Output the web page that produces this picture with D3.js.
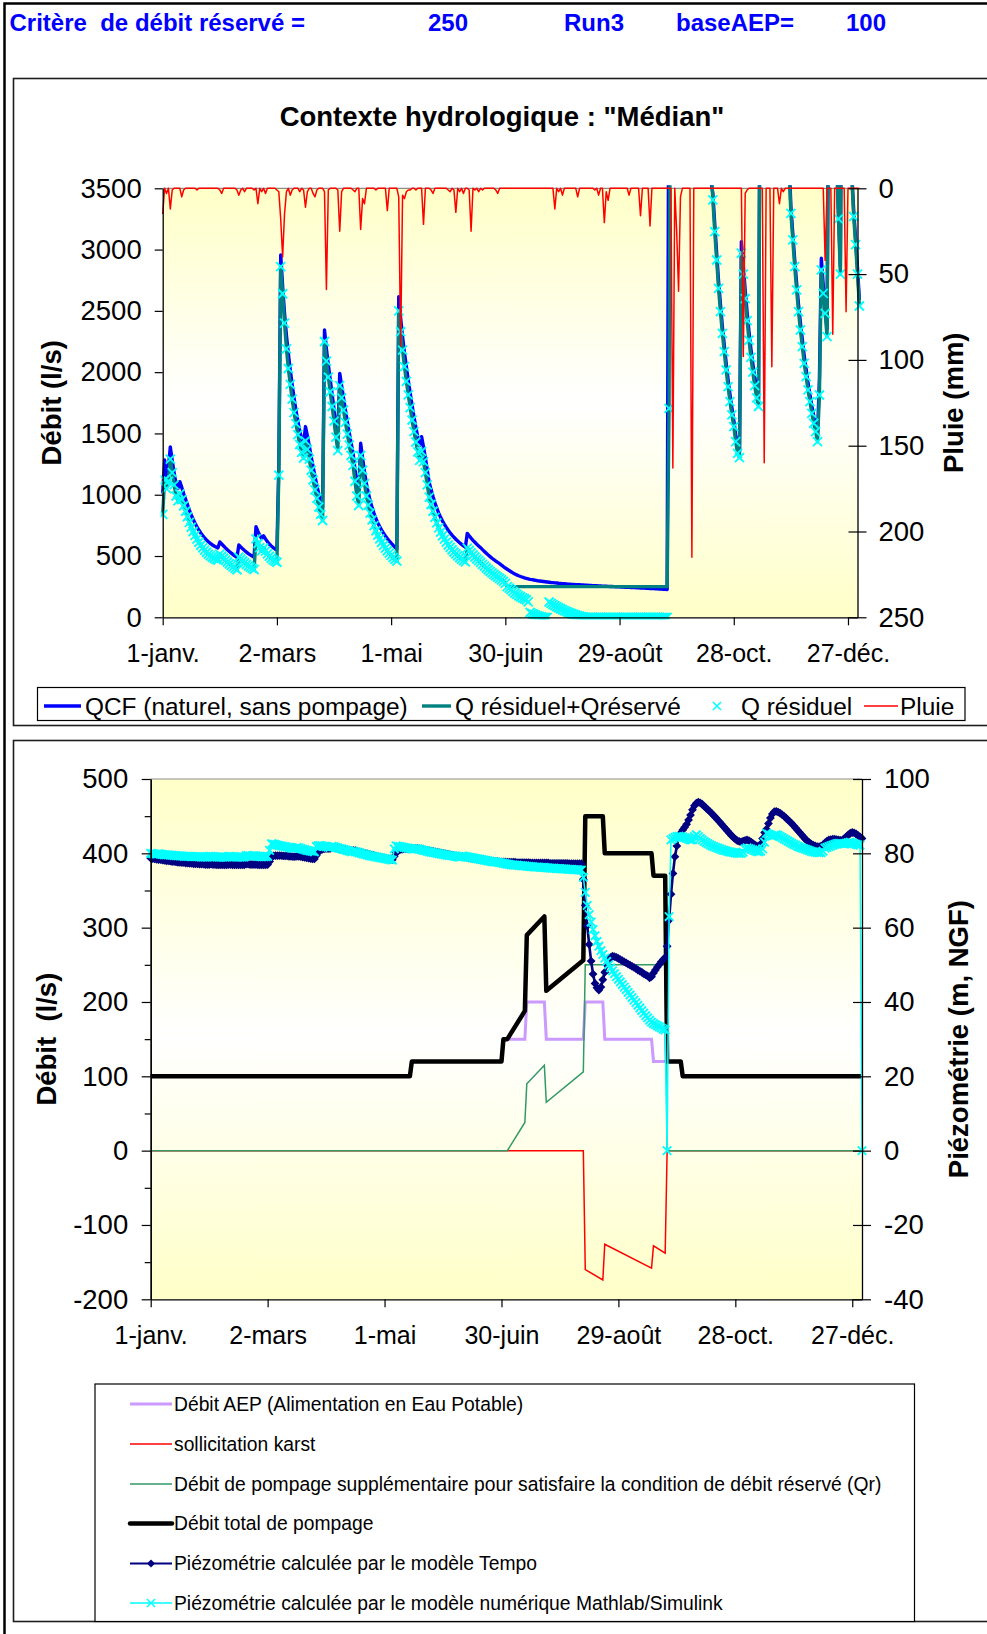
<!DOCTYPE html>
<html lang="fr">
<head>
<meta charset="utf-8">
<title>Contexte hydrologique : Médian</title>
<script src="https://cdn.jsdelivr.net/npm/d3@7"></script>
<style>
  html, body { margin: 0; padding: 0; background: #fff; }
  svg { display: block; }
  text { font-family: "Liberation Sans", Arial, Helvetica, sans-serif; fill: #000; }
</style>
</head>
<body>
<svg id="fig" width="987" height="1634" viewBox="0 0 987 1634"></svg>
<script>
// ---------------- data ----------------
const headerItems = ["Critère  de débit réservé =", "250", "Run3", "baseAEP=", "100"];
const chartTitle = "Contexte hydrologique : \"Médian\"";

// day-of-year ticks (non leap year, day 0 = 1 January)
const monthTicks = [0, 60, 120, 180, 240, 300, 360];
const monthLabels = ["1-janv.", "2-mars", "1-mai", "30-juin", "29-août", "28-oct.", "27-déc."];

const debitTicks = [0, 500, 1000, 1500, 2000, 2500, 3000, 3500];
const pluieTicks = [0, 50, 100, 150, 200, 250];
const pompTicks = [-200, -100, 0, 100, 200, 300, 400, 500];
const pompMinorTicks = [-150, -50, 50, 150, 250, 350, 450];
const piezoTicks = [-40, -20, 0, 20, 40, 60, 80, 100];

// daily flows (l/s), index = day of year
const qcf = [
1010,1284,1150,1220,1390,1280,1180,1090,1050,1107,
1060,1010,965,920,875,835,800,768,738,712,
688,667,648,631,616,603,592,582,573,566,
615,598,582,566,551,537,524,511,499,488,
590,574,559,545,532,520,509,499,490,740,
702,668,642,665,640,617,598,582,569,558,
549,1250,2956,2700,2480,2300,2150,2020,1900,1790,
1690,1600,1520,1455,1410,1556,1480,1400,1310,1230,
1150,1075,1005,945,895,2344,2190,2060,1940,1820,
1700,1570,1460,1990,1890,1790,1690,1595,1505,1420,
1340,1210,1090,1012,1420,1300,1190,1090,1015,950,
895,848,806,770,740,712,687,664,643,623,
605,588,572,558,2616,2440,2290,2160,2045,1935,
1830,1730,1635,1548,1470,1400,1474,1390,1300,1200,
1100,1040,985,935,890,850,815,785,758,733,
710,690,671,653,637,622,608,595,583,572,
685,665,646,628,612,596,582,568,552,537,
522,508,495,482,470,459,448,438,425,413,
402,392,382,372,362,354,346,339,333,327,
322,318,314,310,307,304,301,298,296,294,
292,290,288,286,284,283,281,280,278,277,
275,274,273,271,270,269,268,267,266,265,
264,263,262,261,260,259,258,258,257,256,
255,254,254,253,252,251,251,250,249,248,
248,247,246,245,245,244,243,242,242,241,
240,239,239,238,237,236,235,234,234,233,
232,231,230,229,228,226,5200,6800,7600,7900,
7500,8200,8600,8000,7400,6900,6400,7600,9000,8300,
7600,6900,6300,5700,5100,4600,4200,3850,3560,3460,
3210,2975,2745,2555,2375,2225,2075,1940,1820,1710,
1610,1490,1395,1350,3065,2870,2670,2490,2330,2190,
2070,1960,1860,1780,5300,6900,9600,8900,8100,7500,
9100,8500,7700,6900,6300,5700,5100,4600,4150,3760,
3350,3135,2920,2730,2555,2405,2270,2135,2025,1915,
1820,1725,1645,1575,1495,1950,2929,2710,2540,2350,
4900,6300,7100,5100,3770,3310,2860,5600,7100,8100,
6100,4700,3620,3320,3090,2850,2590
];

const qResiduel = [
840,1120,1050,1110,1290,1180,1080,990,950,1007,
960,910,865,820,775,735,700,668,638,612,
588,567,548,531,516,503,492,482,473,466,
515,498,482,466,451,437,424,411,399,388,
490,474,459,445,432,420,409,399,390,640,
602,568,542,565,540,517,498,482,469,458,
449,1160,2861,2640,2400,2190,2030,1900,1780,1670,
1580,1490,1410,1345,1300,1440,1370,1290,1200,1120,
1040,970,900,840,790,2250,2090,1960,1840,1720,
1600,1470,1360,1890,1790,1690,1590,1495,1405,1320,
1240,1110,990,912,1320,1200,1090,990,915,850,
795,748,706,670,640,612,587,564,543,523,
505,488,472,458,2500,2330,2180,2045,1925,1815,
1710,1610,1515,1430,1350,1280,1354,1270,1180,1080,
980,920,865,815,770,730,695,665,638,613,
590,570,551,533,517,502,488,475,463,452,
565,545,526,508,492,476,462,448,432,417,
402,388,375,362,350,339,328,318,305,293,
277,250,238,226,212,198,187,177,168,159,
151,143,126,40,32,25,18,12,7,3,
0,0,0,125,114,104,95,86,78,70,
62,55,48,41,35,29,24,19,14,10,
6,3,0,0,0,0,0,0,0,0,
0,0,0,0,0,0,0,0,0,0,
0,0,0,0,0,0,0,0,0,0,
0,0,0,0,0,0,0,0,0,0,
0,0,0,0,0,0,1705,5600,6800,7400,
7600,7200,7800,8200,7700,7200,6800,6400,7500,8800,
8100,7400,6800,6200,5600,5000,4500,4100,3700,3405,
3147,2915,2684,2494,2317,2168,2018,1882,1760,1651,
1556,1433,1338,1303,2970,2800,2600,2420,2260,2120,
2000,1890,1790,1720,5200,6800,9500,8800,8000,7400,
9000,8400,7600,6800,6200,5600,5000,4500,4050,3680,
3296,3079,2861,2671,2494,2344,2208,2072,1963,1855,
1760,1664,1583,1515,1433,1814,2834,2643,2480,2290,
4800,6200,7000,5000,3720,3250,2800,5500,7000,8000,
6000,4600,3580,3270,3040,2800,2540
];

const qResiduelReserve = [
840,1120,1050,1110,1290,1180,1080,990,950,1007,
960,910,865,820,775,735,700,668,638,612,
588,567,548,531,516,503,492,482,473,466,
515,498,482,466,451,437,424,411,399,388,
490,474,459,445,432,420,409,399,390,640,
602,568,542,565,540,517,498,482,469,458,
449,1160,2861,2640,2400,2190,2030,1900,1780,1670,
1580,1490,1410,1345,1300,1440,1370,1290,1200,1120,
1040,970,900,840,790,2250,2090,1960,1840,1720,
1600,1470,1360,1890,1790,1690,1590,1495,1405,1320,
1240,1110,990,912,1320,1200,1090,990,915,850,
795,748,706,670,640,612,587,564,543,523,
505,488,472,458,2500,2330,2180,2045,1925,1815,
1710,1610,1515,1430,1350,1280,1354,1270,1180,1080,
980,920,865,815,770,730,695,665,638,613,
590,570,551,533,517,502,488,475,463,452,
565,545,526,508,492,476,462,448,432,417,
402,388,375,362,350,339,328,318,305,293,
277,250,250,250,250,250,250,250,250,250,
250,250,250,250,250,250,250,250,250,250,
250,250,250,250,250,250,250,250,250,250,
250,250,250,250,250,250,250,250,250,250,
250,250,250,250,250,250,250,250,250,250,
250,250,250,250,250,250,250,250,250,250,
250,250,250,250,250,250,250,250,250,250,
250,250,250,250,250,250,250,250,250,250,
250,250,250,250,250,250,1705,5600,6800,7400,
7600,7200,7800,8200,7700,7200,6800,6400,7500,8800,
8100,7400,6800,6200,5600,5000,4500,4100,3700,3405,
3147,2915,2684,2494,2317,2168,2018,1882,1760,1651,
1556,1433,1338,1303,2970,2800,2600,2420,2260,2120,
2000,1890,1790,1720,5200,6800,9500,8800,8000,7400,
9000,8400,7600,6800,6200,5600,5000,4500,4050,3680,
3296,3079,2861,2671,2494,2344,2208,2072,1963,1855,
1760,1664,1583,1515,1433,1814,2834,2643,2480,2290,
4800,6200,7000,5000,3720,3250,2800,5500,7000,8000,
6000,4600,3580,3270,3040,2800,2540
];

// daily rainfall (mm)
const pluie = [
15,0,3,0,12,1,0,0,0,0,
5,1,0,0,0,0,0,0,1,0,
0,0,0,0,0,0,0,0,0,0,
1,3,0,0,0,0,0,0,0,1,
4,1,0,2,0,0,0,0,1,0,
9,0,2,0,3,0,0,0,0,0,
1,2,18,40,15,2,0,4,1,0,
0,0,2,0,1,11,2,0,0,3,
5,1,0,0,0,2,59,1,0,0,
0,0,1,25,2,0,0,0,0,0,
1,2,0,0,24,6,9,0,0,0,
0,0,1,0,0,0,0,0,13,0,
0,0,0,0,5,92,4,6,2,1,
1,0,0,1,0,0,0,21,0,0,
0,1,3,0,0,0,0,0,0,0,
1,2,0,1,14,0,2,0,3,0,
0,1,25,0,1,0,2,0,1,0,
0,0,0,0,0,1,3,0,0,0,
0,0,0,0,0,0,0,0,0,0,
0,0,0,0,0,0,0,0,0,0,
0,0,0,0,0,0,12,0,2,0,
4,0,0,0,0,0,0,0,5,0,
0,0,0,0,0,0,0,1,0,4,
0,0,20,2,7,0,0,0,0,0,
0,0,0,0,0,4,0,0,0,0,
0,16,0,0,0,0,22,0,0,0,
0,0,0,0,0,0,0,0,163,0,
25,60,5,0,0,0,0,0,215,0,
0,0,0,0,0,0,0,0,0,0,
0,0,0,0,0,0,0,0,0,0,
0,0,0,0,0,98,3,1,0,0,
0,0,0,0,0,0,160,0,0,0,
104,0,0,0,9,0,2,0,0,0,
0,0,0,0,0,0,0,0,0,0,
0,0,0,0,0,0,0,0,42,0,
0,0,85,0,0,0,0,0,0,72,
0,0,0,0,0,0,0
];

// pumping rates (l/s) as [day, value] breakpoints
const debitAEP = [[0,100],[133,100],[134,120],[180,120],[181,150],[192,150],[193,200],[202,200],[203,150],[222,150],[223,200],[232,200],[233,150],[257,150],[258,120],[272,120],[273,100],[365,100]];
const sollicitationKarst = [[0,0],[222,0],[223,-160],[232,-174],[233,-126],[257,-158],[258,-128],[264,-138],[265,0],[365,0]];
const debitSupplementaire = [[0,0],[183,0],[192,38],[193,90],[202,115],[203,65],[222,106],[223,250],[264,250],[265,0],[365,0]];
const debitTotal = [[0,100],[133,100],[134,120],[180,120],[181,150],[183,150],[192,188],[193,290],[202,315],[203,215],[222,256],[223,450],[232,450],[233,400],[257,400],[258,370],[264,370],[265,120],[272,120],[273,100],[365,100]];

// daily piezometric level (m NGF)
const piezoTempo = [
78.7,78.6,78.5,78.4,78.3,78.3,78.2,78.1,78.0,78.0,
77.9,77.8,77.8,77.7,77.6,77.6,77.5,77.5,77.4,77.4,
77.3,77.3,77.2,77.2,77.2,77.1,77.1,77.1,77.0,77.0,
77.0,77.1,77.0,77.0,76.9,76.9,76.9,76.9,76.9,76.9,
77.0,77.0,76.9,76.9,76.9,76.9,76.9,76.9,76.9,77.1,
77.1,77.0,77.0,77.0,77.0,76.9,76.9,76.9,76.9,76.9,
77.0,77.8,79.0,79.3,79.4,79.4,79.4,79.4,79.3,79.3,
79.3,79.2,79.2,79.1,79.1,79.2,79.2,79.1,79.0,78.9,
78.8,78.7,78.6,78.5,78.5,79.4,80.3,80.8,81.1,81.2,
81.3,81.3,81.3,81.5,81.6,81.5,81.4,81.3,81.2,81.1,
81.0,80.9,80.8,80.7,80.8,80.7,80.6,80.4,80.3,80.1,
80.0,79.9,79.7,79.6,79.5,79.3,79.2,79.1,79.0,78.9,
78.7,78.6,78.5,78.4,78.3,79.2,80.2,80.7,81.0,81.1,
81.2,81.2,81.2,81.2,81.2,81.2,81.3,81.3,81.2,81.1,
81.0,80.9,80.8,80.7,80.6,80.5,80.4,80.3,80.2,80.1,
80.0,79.9,79.8,79.7,79.6,79.5,79.4,79.3,79.2,79.1,
79.1,79.0,78.9,78.8,78.7,78.6,78.6,78.5,78.4,78.3,
78.3,78.2,78.1,78.1,78.0,77.9,77.9,77.8,77.8,77.7,
77.7,77.7,77.7,77.6,77.6,77.6,77.6,77.6,77.5,77.5,
77.5,77.5,77.5,77.5,77.5,77.4,77.4,77.4,77.4,77.4,
77.4,77.4,77.4,77.4,77.4,77.3,77.3,77.3,77.3,77.3,
77.3,77.3,77.3,77.3,77.3,77.2,77.2,77.2,77.2,77.2,
77.2,77.2,73.0,66.0,60.5,55.5,51.0,47.5,45.0,43.8,
43.2,44.0,46.0,48.0,50.0,51.5,52.0,52.3,52.2,52.0,
51.7,51.4,51.1,50.8,50.5,50.2,49.9,49.6,49.3,49.0,
48.6,48.3,48.0,47.6,47.3,47.0,46.5,46.8,47.8,48.6,
49.4,50.1,50.8,51.4,52.0,55.0,62.0,69.0,74.6,79.1,
82.0,84.5,85.5,86.3,87.0,87.8,89.0,90.3,91.7,92.8,
93.5,93.8,93.6,93.2,92.7,92.2,91.7,91.2,90.7,90.1,
89.6,89.0,88.4,87.8,87.2,86.6,86.0,85.4,84.8,84.3,
83.8,83.4,83.2,83.1,83.3,83.5,83.6,83.4,83.1,82.7,
82.3,82.0,81.8,82.5,84.0,85.6,86.5,88.0,89.5,90.6,
91.2,91.3,91.1,90.8,90.4,90.0,89.5,89.0,88.5,88.0,
87.4,86.8,86.2,85.6,85.0,84.4,83.8,83.3,82.9,82.5,
82.2,82.0,81.8,81.8,81.9,82.3,82.8,83.3,83.6,83.7,
83.8,83.8,83.7,83.6,83.5,83.6,84.0,84.5,85.0,85.4,
85.6,85.5,85.2,84.8,84.4,84.0
];

const piezoSimulink = [
80.0,79.9,79.8,79.8,79.9,79.8,79.7,79.6,79.6,79.6,
79.5,79.5,79.4,79.4,79.3,79.3,79.3,79.2,79.2,79.2,
79.2,79.1,79.1,79.1,79.1,79.1,79.0,79.0,79.0,79.0,
79.2,79.2,79.1,79.1,79.0,79.0,79.0,79.0,79.0,79.0,
79.2,79.2,79.1,79.1,79.0,79.0,79.0,79.0,79.0,79.4,
79.4,79.3,79.3,79.4,79.3,79.2,79.2,79.1,79.1,79.1,
79.2,80.8,82.6,82.5,82.4,82.2,82.1,82.0,81.9,81.8,
81.7,81.6,81.5,81.4,81.3,81.6,81.5,81.3,81.1,81.0,
80.8,80.7,80.6,80.5,80.4,81.9,82.1,82.1,82.0,81.9,
81.8,81.7,81.6,81.9,81.8,81.6,81.5,81.3,81.2,81.0,
80.9,80.7,80.6,80.4,80.6,80.4,80.3,80.1,80.0,79.8,
79.7,79.6,79.4,79.3,79.2,79.1,79.0,78.9,78.8,78.7,
78.6,78.5,78.4,78.3,78.2,81.2,82.0,81.9,81.8,81.7,
81.6,81.5,81.4,81.3,81.2,81.1,81.3,81.2,81.1,80.9,
80.8,80.7,80.5,80.4,80.3,80.2,80.1,80.0,79.9,79.8,
79.7,79.6,79.5,79.4,79.4,79.3,79.2,79.1,79.0,79.0,
79.3,79.2,79.1,79.0,78.9,78.8,78.7,78.6,78.5,78.4,
78.3,78.2,78.1,78.0,77.9,77.8,77.7,77.7,77.6,77.5,
77.4,77.3,77.2,77.1,77.0,76.9,76.9,76.8,76.8,76.7,
76.7,76.6,76.6,76.5,76.5,76.4,76.4,76.3,76.3,76.3,
76.2,76.2,76.2,76.1,76.1,76.0,76.0,76.0,75.9,75.9,
75.9,75.8,75.8,75.8,75.7,75.7,75.7,75.6,75.6,75.6,
75.5,75.5,73.5,69.5,66.0,63.5,61.5,59.5,57.8,56.3,
55.0,53.8,52.8,51.8,50.9,50.0,49.2,48.4,47.6,46.8,
46.1,45.4,44.7,44.0,43.3,42.6,41.9,41.2,40.5,39.8,
39.1,38.4,37.7,37.0,36.3,35.7,35.1,34.6,34.2,33.9,
33.6,33.3,33.0,32.7,32.5,0,63.0,83.6,84.0,84.3,
84.5,84.6,84.5,84.4,84.2,84.0,83.8,83.6,83.6,84.5,
85.0,84.5,84.0,83.6,83.2,82.9,82.6,82.3,82.0,81.8,
81.6,81.4,81.2,81.0,80.8,80.7,80.5,80.4,80.3,80.2,
80.1,80.0,80.0,80.0,80.3,81.2,81.5,81.3,81.1,80.9,
80.7,80.5,80.4,80.6,81.2,83.0,85.4,85.2,84.9,84.6,
84.8,85.0,84.8,84.5,84.2,83.9,83.6,83.3,83.0,82.7,
82.4,82.2,81.9,81.7,81.5,81.3,81.1,80.9,80.7,80.5,
80.4,80.3,80.2,80.2,80.2,80.6,81.4,81.6,81.8,82.0,
82.2,82.4,82.6,82.7,82.7,82.6,82.5,82.7,82.9,83.0,
82.8,82.6,82.4,82.3,82.2,0
];

// ---------------- drawing ----------------
const svg = d3.select("#fig");
const defs = svg.append("defs");

const grad = defs.append("linearGradient").attr("id", "plotFill")
  .attr("x1", 0).attr("y1", 0).attr("x2", 0).attr("y2", 1);
grad.append("stop").attr("offset", "0%").attr("stop-color", "#ffffc8");
grad.append("stop").attr("offset", "50%").attr("stop-color", "#ffffff");
grad.append("stop").attr("offset", "100%").attr("stop-color", "#ffffc8");

// page frame
svg.append("rect").attr("x", 4.5).attr("y", 3.5).attr("width", 1000).attr("height", 1660)
  .attr("fill", "none").attr("stroke", "#000").attr("stroke-width", 2.5);

// run header
const headerX = [9.5, 428, 564, 676, 846];
svg.append("g").selectAll("text").data(headerItems).join("text")
  .attr("x", (d, i) => headerX[i]).attr("y", 31)
  .attr("font-size", 24).attr("font-weight", "bold")
  .style("fill", "#0000ff").style("white-space", "pre")
  .text(d => d);

// chart areas
function chartArea(y, h) {
  svg.append("rect").attr("x", 13.5).attr("y", y).attr("width", 990).attr("height", h)
    .attr("fill", "#fff").attr("stroke", "#1e1e1e").attr("stroke-width", 1.6);
}
chartArea(78.5, 647);
chartArea(740.5, 881);

const xMarker = s => `M${-s},${-s}L${s},${s}M${-s},${s}L${s},${-s}`;
const diamond = s => `M0,${-s}L${s},0L0,${s}L${-s},0Z`;
const plain = d => String(d);

function styleAxis(g, size) {
  g.select(".domain").attr("stroke", "#000").attr("stroke-width", 1.3);
  g.selectAll(".tick line").attr("stroke", "#000").attr("stroke-width", 1.2);
  g.selectAll(".tick text").attr("font-size", size);
}

// ================= top chart: flows and rainfall =================
const T = { left: 162.7, right: 857.5, top: 188.3, bottom: 617.3 };
const xT = d3.scaleLinear().domain([0, 365]).range([T.left, T.right]);
const yT = d3.scaleLinear().domain([0, 3500]).range([T.bottom, T.top]);
const yRain = d3.scaleLinear().domain([0, 250]).range([T.top, T.bottom]);

svg.append("rect").attr("x", T.left).attr("y", T.top)
  .attr("width", T.right - T.left).attr("height", T.bottom - T.top).attr("fill", "url(#plotFill)");
svg.append("line").attr("x1", T.left).attr("x2", T.right).attr("y1", T.top).attr("y2", T.top)
  .attr("stroke", "#8c8c8c").attr("stroke-width", 1.2);

defs.append("clipPath").attr("id", "clipTop").append("rect")
  .attr("x", T.left - 2).attr("y", T.top - 3).attr("width", T.right - T.left + 10).attr("height", T.bottom - T.top + 5);

const gTop = svg.append("g").attr("clip-path", "url(#clipTop)");
const lineT = d3.line().x((d, i) => xT(i)).y(d => yT(d)).curve(d3.curveLinear);

gTop.append("path").datum(qcf).attr("d", lineT)
  .attr("fill", "none").attr("stroke", "#0000ff").attr("stroke-width", 3.4).attr("stroke-linejoin", "round");
gTop.append("path").datum(qResiduelReserve).attr("d", lineT)
  .attr("fill", "none").attr("stroke", "#008080").attr("stroke-width", 3.4).attr("stroke-linejoin", "round");
gTop.append("g").selectAll("path")
  .data(qResiduel.map((v, i) => [i, v]).filter(d => d[1] <= 3500))
  .join("path")
  .attr("transform", d => `translate(${xT(d[0])},${yT(d[1])})`)
  .attr("d", xMarker(4.5)).attr("fill", "none").attr("stroke", "#00ffff").attr("stroke-width", 1.9);
gTop.append("path").datum(pluie)
  .attr("d", d3.line().x((d, i) => xT(i)).y(d => yRain(d)))
  .attr("fill", "none").attr("stroke", "#ff0000").attr("stroke-width", 1.5).attr("stroke-linejoin", "round");

// axes
const axTL = svg.append("g").attr("transform", `translate(${T.left},0)`)
  .call(d3.axisLeft(yT).tickValues(debitTicks).tickFormat(plain).tickSize(8).tickSizeOuter(0).tickPadding(13));
styleAxis(axTL, 27.5);
const axTR = svg.append("g").attr("transform", `translate(${T.right},0)`)
  .call(d3.axisRight(yRain).tickValues(pluieTicks).tickFormat(plain).tickSize(9).tickSizeOuter(0).tickPadding(12));
styleAxis(axTR, 27.5);
axTR.selectAll(".tick line").attr("x1", -9);
const axTB = svg.append("g").attr("transform", `translate(0,${T.bottom})`)
  .call(d3.axisBottom(xT).tickValues(monthTicks).tickFormat((d, i) => monthLabels[i]).tickSize(8).tickSizeOuter(0));
styleAxis(axTB, 25);
axTB.selectAll(".tick text").attr("y", 36).attr("dy", "0.35em");

svg.append("text").attr("x", 502).attr("y", 126).attr("text-anchor", "middle")
  .attr("font-size", 27.5).attr("font-weight", "bold").text(chartTitle);
svg.append("text").attr("transform", `translate(51,${(T.top + T.bottom) / 2}) rotate(-90)`)
  .attr("text-anchor", "middle").attr("dy", "0.35em")
  .attr("font-size", 27.5).attr("font-weight", "bold").text("Débit (l/s)");
svg.append("text").attr("transform", `translate(953,${(T.top + T.bottom) / 2}) rotate(-90)`)
  .attr("text-anchor", "middle").attr("dy", "0.35em")
  .attr("font-size", 27.5).attr("font-weight", "bold").text("Pluie (mm)");

// legend (top)
const legT = svg.append("g");
legT.append("rect").attr("x", 37.5).attr("y", 687.5).attr("width", 927.5).attr("height", 33)
  .attr("fill", "#fff").attr("stroke", "#000").attr("stroke-width", 1.2);
const legTY = 706;
const legTItems = [
  { label: "QCF (naturel, sans pompage)", x0: 44, x1: 81, tx: 85, color: "#0000ff", w: 3.4 },
  { label: "Q résiduel+Qréservé", x0: 422, x1: 451, tx: 455, color: "#008080", w: 3.4 },
  { label: "Q résiduel", marker: true, x0: 717, tx: 741, color: "#00ffff" },
  { label: "Pluie", x0: 864, x1: 898, tx: 900, color: "#ff0000", w: 1.5 }
];
legTItems.forEach(it => {
  if (it.marker) {
    legT.append("path").attr("transform", `translate(${it.x0},${legTY})`)
      .attr("d", xMarker(4)).attr("fill", "none").attr("stroke", it.color).attr("stroke-width", 1.6);
  } else {
    legT.append("line").attr("x1", it.x0).attr("x2", it.x1).attr("y1", legTY).attr("y2", legTY)
      .attr("stroke", it.color).attr("stroke-width", it.w);
  }
  legT.append("text").attr("x", it.tx).attr("y", legTY).attr("dy", "0.35em")
    .attr("font-size", 24.4).text(it.label);
});

// ================= bottom chart: pumping and piezometry =================
const B = { left: 150.7, right: 862, top: 779, bottom: 1299.3 };
const xB = d3.scaleLinear().domain([0, 365]).range([B.left, B.right]);
const yB = d3.scaleLinear().domain([-200, 500]).range([B.bottom, B.top]);
const yP = d3.scaleLinear().domain([-40, 100]).range([B.bottom, B.top]);

svg.append("rect").attr("x", B.left).attr("y", B.top)
  .attr("width", B.right - B.left).attr("height", B.bottom - B.top).attr("fill", "url(#plotFill)");
svg.append("line").attr("x1", B.left).attr("x2", B.right).attr("y1", B.top).attr("y2", B.top)
  .attr("stroke", "#8c8c8c").attr("stroke-width", 1.2);

const gBot = svg.append("g");
const lineB = d3.line().x(d => xB(d[0])).y(d => yB(d[1]));
const lineP = d3.line().x((d, i) => xB(i)).y(d => yP(d));

gBot.append("path").datum(debitAEP).attr("d", lineB)
  .attr("fill", "none").attr("stroke", "#cc99ff").attr("stroke-width", 3);
gBot.append("path").datum(sollicitationKarst).attr("d", lineB)
  .attr("fill", "none").attr("stroke", "#ff0000").attr("stroke-width", 1.5);
gBot.append("path").datum(debitSupplementaire).attr("d", lineB)
  .attr("fill", "none").attr("stroke", "#339966").attr("stroke-width", 1.5);
gBot.append("path").datum(debitTotal).attr("d", lineB)
  .attr("fill", "none").attr("stroke", "#000").attr("stroke-width", 4.5).attr("stroke-linejoin", "round");

gBot.append("path").datum(piezoTempo).attr("d", lineP)
  .attr("fill", "none").attr("stroke", "#000080").attr("stroke-width", 2.6);
gBot.append("g").selectAll("path").data(piezoTempo).join("path")
  .attr("transform", (d, i) => `translate(${xB(i)},${yP(d)})`)
  .attr("d", diamond(4.4)).attr("fill", "#000080");

gBot.append("path").datum(piezoSimulink).attr("d", lineP)
  .attr("fill", "none").attr("stroke", "#00ffff").attr("stroke-width", 1.5);
gBot.append("g").selectAll("path").data(piezoSimulink).join("path")
  .attr("transform", (d, i) => `translate(${xB(i)},${yP(d)})`)
  .attr("d", xMarker(4.2)).attr("fill", "none").attr("stroke", "#00ffff").attr("stroke-width", 1.9);

const axBL = svg.append("g").attr("transform", `translate(${B.left},0)`)
  .call(d3.axisLeft(yB).tickValues(pompTicks).tickFormat(plain).tickSize(9).tickSizeOuter(0).tickPadding(13.5));
styleAxis(axBL, 27.5);
const axBLm = svg.append("g").attr("transform", `translate(${B.left},0)`)
  .call(d3.axisLeft(yB).tickValues(pompMinorTicks).tickSize(6).tickSizeOuter(0).tickFormat(""));
styleAxis(axBLm, 10);
const axBR = svg.append("g").attr("transform", `translate(${B.right},0)`)
  .call(d3.axisRight(yP).tickValues(piezoTicks).tickFormat(plain).tickSize(9).tickSizeOuter(0).tickPadding(13));
styleAxis(axBR, 27.5);
axBR.selectAll(".tick line").attr("x1", -9);
const axBB = svg.append("g").attr("transform", `translate(0,${B.bottom})`)
  .call(d3.axisBottom(xB).tickValues(monthTicks).tickFormat((d, i) => monthLabels[i]).tickSize(8).tickSizeOuter(0));
styleAxis(axBB, 25);
axBB.selectAll(".tick text").attr("y", 36).attr("dy", "0.35em");

svg.append("text").attr("transform", `translate(46,${(B.top + B.bottom) / 2}) rotate(-90)`)
  .attr("text-anchor", "middle").attr("dy", "0.35em").style("white-space", "pre")
  .attr("font-size", 27.5).attr("font-weight", "bold").text("Débit  (l/s)");
svg.append("text").attr("transform", `translate(958,${(B.top + B.bottom) / 2}) rotate(-90)`)
  .attr("text-anchor", "middle").attr("dy", "0.35em")
  .attr("font-size", 27.5).attr("font-weight", "bold").text("Piézométrie (m, NGF)");

// legend (bottom)
const legB = svg.append("g");
legB.append("rect").attr("x", 95).attr("y", 1384).attr("width", 819.5).attr("height", 237.5)
  .attr("fill", "#fff").attr("stroke", "#000").attr("stroke-width", 1.2);
const legBItems = [
  { label: "Débit AEP (Alimentation en Eau Potable)", color: "#cc99ff", w: 3 },
  { label: "sollicitation karst", color: "#ff0000", w: 1.5 },
  { label: "Débit de pompage supplémentaire pour satisfaire la condition de débit réservé (Qr)", color: "#339966", w: 1.5 },
  { label: "Débit total de pompage", color: "#000", w: 4.5 },
  { label: "Piézométrie calculée par le modèle Tempo", color: "#000080", w: 2, mark: "diamond" },
  { label: "Piézométrie calculée par le modèle numérique Mathlab/Simulink", color: "#00ffff", w: 1.5, mark: "x" }
];
const legBY = [1404, 1444, 1484, 1523.5, 1563.5, 1603];
legBItems.forEach((it, i) => {
  const y = legBY[i];
  legB.append("line").attr("x1", 130).attr("x2", 172).attr("y1", y).attr("y2", y)
    .attr("stroke", it.color).attr("stroke-width", it.w).attr("stroke-linecap", it.w > 4 ? "round" : "butt");
  if (it.mark === "diamond") {
    legB.append("path").attr("transform", `translate(151,${y})`).attr("d", diamond(4)).attr("fill", it.color);
  } else if (it.mark === "x") {
    legB.append("path").attr("transform", `translate(151,${y})`).attr("d", xMarker(4))
      .attr("fill", "none").attr("stroke", it.color).attr("stroke-width", 1.5);
  }
  legB.append("text").attr("x", 174).attr("y", y).attr("dy", "0.35em")
    .attr("font-size", 19.3).text(it.label);
});
</script>
</body>
</html>
